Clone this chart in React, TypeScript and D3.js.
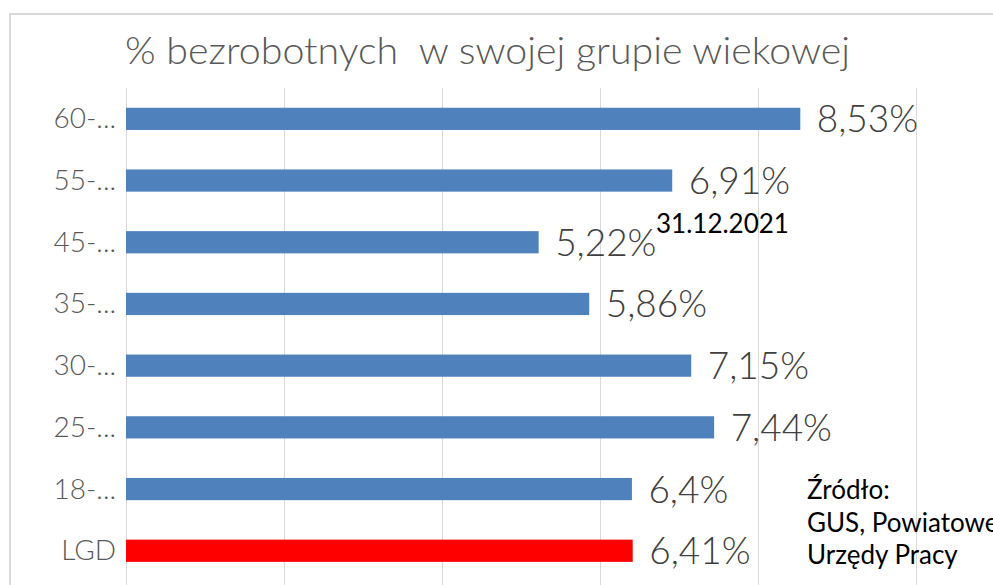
import React from "react";
import * as d3 from "d3";

const categories = ["60-...", "55-...", "45-...", "35-...", "30-...", "25-...", "18-...", "LGD"];
const values = [8.53, 6.91, 5.22, 5.86, 7.15, 7.44, 6.4, 6.41];
const valueLabels = ["8,53%", "6,91%", "5,22%", "5,86%", "7,15%", "7,44%", "6,4%", "6,41%"];
const barColors = ["#4f81bd", "#4f81bd", "#4f81bd", "#4f81bd", "#4f81bd", "#4f81bd", "#4f81bd", "#ff0000"];
const gridTicks = [0, 2, 4, 6, 8, 10, 12];
const titleText = "% bezrobotnych  w swojej grupie wiekowej";
const dateText = "31.12.2021";
const sourceLines = ["Źródło:", "GUS, Powiatowe", "Urzędy Pracy"];

const W = 993;
const H = 585;
const FONT = "Lato, 'Open Sans', sans-serif";

export default function App() {
  const x = d3.scaleLinear().domain([0, 12]).range([125.5, 125.5 + 12 * 79.05]);
  const y = d3
    .scaleBand<string>()
    .domain(categories)
    .range([88, 581.6])
    .paddingInner(0.64)
    .paddingOuter(0.32);
  const bw = y.bandwidth();

  return (
    <svg
      width={W}
      height={H}
      style={{ position: "absolute", left: 0, top: 0, background: "#fff" }}
    >
      <rect x={0} y={0} width={W} height={H} fill="#fff" />
      {/* chart frame */}
      <line x1={10} y1={14} x2={W} y2={14} stroke="#d9d9d9" strokeWidth={2} />
      <line x1={10} y1={13} x2={10} y2={H} stroke="#d9d9d9" strokeWidth={2} />

      {/* title */}
      <text
        x={125}
        y={64}
        fontFamily={FONT}
        fontSize={37}
        fontWeight={300}
        fill="#595959"
        textLength={725}
        lengthAdjust="spacingAndGlyphs"
        style={{ whiteSpace: "pre" }}
      >
        {titleText}
      </text>

      {/* gridlines */}
      {gridTicks.map((t) => (
        <line
          key={t}
          x1={Math.round(x(t)) + 0.5}
          x2={Math.round(x(t)) + 0.5}
          y1={88}
          y2={H}
          stroke="#d9d9d9"
          strokeWidth={1}
        />
      ))}

      {/* bars */}
      {categories.map((c, i) => (
        <rect
          key={c}
          x={x(0) + 0.5}
          y={y(c)!}
          width={x(values[i]) - x(0)}
          height={bw}
          fill={barColors[i]}
        />
      ))}

      {/* category labels */}
      {categories.map((c) => (
        <text
          key={c}
          x={116}
          y={y(c)! + bw / 2 + 9.5}
          textAnchor="end"
          fontFamily={FONT}
          fontSize={28}
          fontWeight={300}
          fill="#595959"
        >
          {c}
        </text>
      ))}

      {/* value labels */}
      {categories.map((c, i) => (
        <text
          key={c}
          x={x(values[i]) + 17}
          y={y(c)! + bw / 2 + 13.5}
          fontFamily={FONT}
          fontSize={37}
          fontWeight={300}
          fill="#404040"
        >
          {valueLabels[i]}
        </text>
      ))}

      {/* date */}
      <text x={656} y={233} fontFamily={FONT} fontSize={26} fill="#000">
        {dateText}
      </text>

      {/* source */}
      {sourceLines.map((s, i) => (
        <text key={s} x={807} y={499 + i * 32.5} fontFamily={FONT} fontSize={26} fill="#000">
          {s}
        </text>
      ))}
    </svg>
  );
}
